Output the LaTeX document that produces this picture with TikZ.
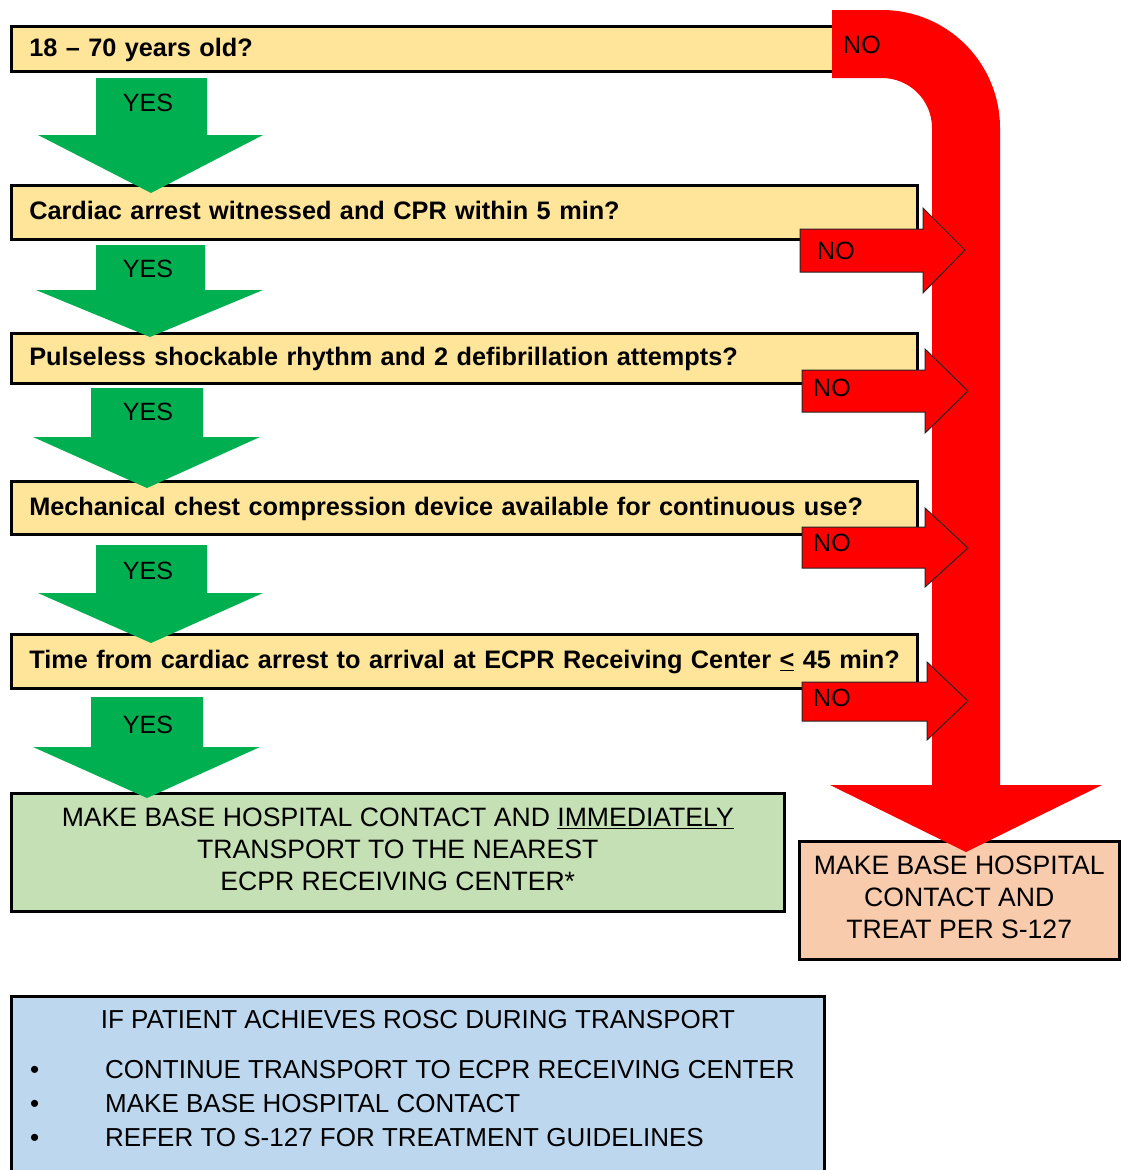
\documentclass[tikz,border=0pt]{standalone}
\usepackage{fontspec}
\setmainfont{Liberation Sans}
\definecolor{qyellow}{HTML}{FFE599}
\definecolor{yesgreen}{HTML}{00B050}
\definecolor{gobox}{HTML}{C5E0B4}
\definecolor{treatbox}{HTML}{F8CBAD}
\definecolor{roscbox}{HTML}{BDD7EE}
\begin{document}
\begin{tikzpicture}[x=1pt,y=-1pt,
    question/.style={draw,line width=2.5pt,fill=qyellow,anchor=north west,minimum width=906pt,
        inner xsep=18pt,text width=870pt,align=left,text height=15pt,text depth=0pt,
        font=\bfseries\fontsize{25.3}{30}\selectfont},
    result/.style={draw,line width=2.5pt,anchor=north west,align=center,text depth=6pt,
        font=\fontsize{26.6}{32}\selectfont},
    bullet/.style={anchor=base west,inner sep=0pt,font=\fontsize{26}{32}\selectfont},
    answer/.style={inner sep=0pt,font=\fontsize{25}{30}\selectfont},
    yesarrow/.style={fill=yesgreen},
    noarrow/.style={fill=red,draw=black!85,line width=1pt}]
    \useasboundingbox (0,0) rectangle (1120,1170);
    \node[question,minimum height=45pt] (age)     at (10,25)  {18 – 70 years old?};
    \node[question,minimum height=54pt] (witness) at (10,184) {Cardiac arrest witnessed and CPR within 5 min?};
    \node[question,minimum height=50pt] (rhythm)  at (10,332) {Pulseless shockable rhythm and 2 defibrillation attempts?};
    \node[question,minimum height=53pt] (device)  at (10,480) {Mechanical chest compression device available for continuous use?};
    \node[question,minimum height=54pt] (arrival) at (10,633) {\mbox{Time from cardiac arrest to arrival at ECPR Receiving Center \underline{<} 45 min?}};
    \node[result,fill=gobox,minimum width=773pt,minimum height=118pt] (transport) at (10,792)
        {MAKE BASE HOSPITAL CONTACT AND \underline{IMMEDIATELY}\\TRANSPORT TO THE NEAREST\\ECPR RECEIVING CENTER*};
    \node[result,fill=treatbox,minimum width=320pt,minimum height=118pt] (treat) at (798,840)
        {MAKE BASE HOSPITAL\\CONTACT AND\\TREAT PER S-127};
    \node[result,fill=roscbox,minimum width=813pt,minimum height=178pt] (rosc) at (10,995) {};
    \node[bullet,anchor=base] (rosctitle) at (418,1028) {IF PATIENT ACHIEVES ROSC DURING TRANSPORT};
    \node[bullet] (continue) at (30,1078) {\makebox[75pt][l]{\textbullet}CONTINUE TRANSPORT TO ECPR RECEIVING CENTER};
    \node[bullet] (contact)  at (30,1112) {\makebox[75pt][l]{\textbullet}MAKE BASE HOSPITAL CONTACT};
    \node[bullet] (refer)    at (30,1146) {\makebox[75pt][l]{\textbullet}REFER TO S-127 FOR TREATMENT GUIDELINES};
    \fill[red] (832,10) -- (882,10) arc[start angle=-90,end angle=0,radius=118] -- (1000,785) -- (1102,785) -- (966,852)
        -- (830,785) -- (932,785) -- (932,128) arc[start angle=0,end angle=-90,radius=50] -- (832,78) -- cycle;
    \node[answer,anchor=base west] (no1) at (843,53) {NO};
    \fill[yesarrow] (96,78)  -- (207,78)  -- (207,135) -- (263,135) -- (151,193) -- (38,135) -- (96,135) -- cycle;
    \fill[yesarrow] (96,245) -- (205,245) -- (205,290) -- (263,290) -- (150,337) -- (36,290) -- (96,290) -- cycle;
    \fill[yesarrow] (91,388) -- (203,388) -- (203,437) -- (260,437) -- (147,488) -- (33,437) -- (91,437) -- cycle;
    \fill[yesarrow] (96,545) -- (207,545) -- (207,593) -- (263,593) -- (151,643) -- (38,593) -- (96,593) -- cycle;
    \fill[yesarrow] (91,697) -- (203,697) -- (203,747) -- (260,747) -- (147,798) -- (33,747) -- (91,747) -- cycle;
    \node[answer,anchor=base] (yes1) at (148,111) {YES};
    \node[answer,anchor=base] (yes2) at (148,277) {YES};
    \node[answer,anchor=base] (yes3) at (148,420) {YES};
    \node[answer,anchor=base] (yes4) at (148,579) {YES};
    \node[answer,anchor=base] (yes5) at (148,733) {YES};
    \draw[noarrow] (800,229) -- (923,229) -- (923,208) -- (965,250) -- (923,293) -- (923,272) -- (800,272) -- cycle;
    \draw[noarrow] (802,370) -- (925,370) -- (925,349) -- (968,391) -- (925,433) -- (925,412) -- (802,412) -- cycle;
    \draw[noarrow] (802,527) -- (925,527) -- (925,508) -- (968,548) -- (925,587) -- (925,568) -- (802,568) -- cycle;
    \draw[noarrow] (802,682) -- (927,682) -- (927,662) -- (968,701) -- (927,740) -- (927,721) -- (802,721) -- cycle;
    \node[answer,anchor=base west] (no2) at (817,259) {NO};
    \node[answer,anchor=base west] (no3) at (813,396) {NO};
    \node[answer,anchor=base west] (no4) at (813,551) {NO};
    \node[answer,anchor=base west] (no5) at (813,706) {NO};
\end{tikzpicture}
\end{document}
